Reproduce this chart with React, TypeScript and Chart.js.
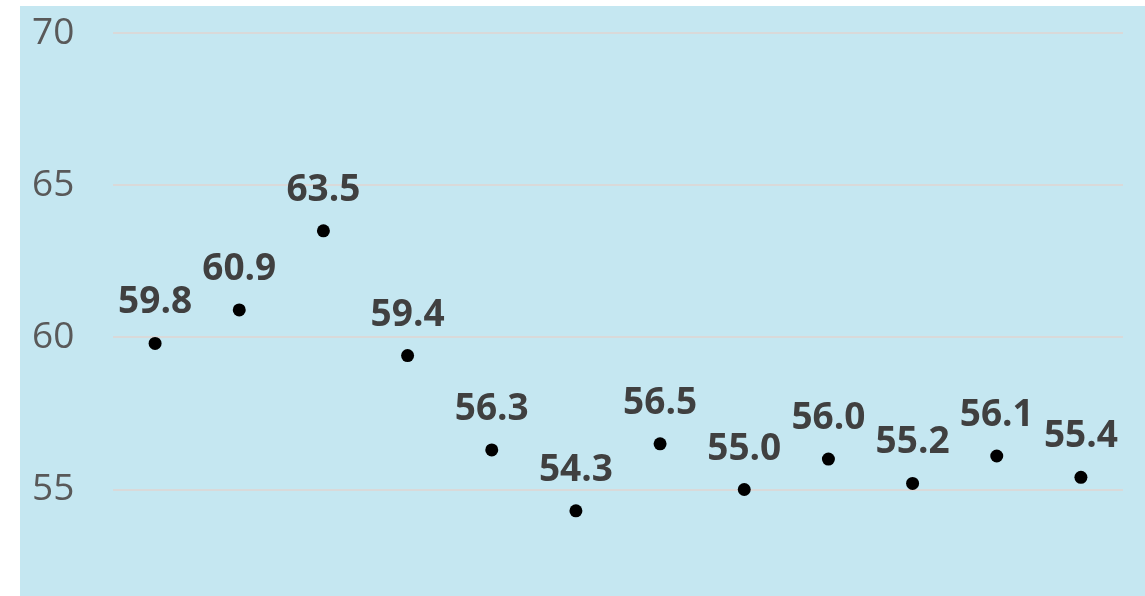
import React, { useEffect, useRef } from "react";
import { Chart, registerables } from "chart.js";

Chart.register(...registerables);

const categories = ["1", "2", "3", "4", "5", "6", "7", "8", "9", "10", "11", "12"];
const seriesValues = [59.8, 60.9, 63.5, 59.4, 56.3, 54.3, 56.5, 55.0, 56.0, 55.2, 56.1, 55.4];
const yTickValues = [55, 60, 65, 70];

const bgPlugin = {
  id: "bgFill",
  beforeDraw(chart: any) {
    const { ctx, width, height } = chart;
    ctx.save();
    ctx.fillStyle = "#c5e7f1";
    ctx.fillRect(0, 0, width, height);
    ctx.restore();
  },
};

const labelPlugin = {
  id: "valueLabels",
  afterDatasetsDraw(chart: any) {
    const { ctx } = chart;
    const meta = chart.getDatasetMeta(0);
    ctx.save();
    ctx.font = "bold 37px 'Open Sans'";
    ctx.fillStyle = "#404040";
    ctx.textAlign = "center";
    ctx.textBaseline = "alphabetic";
    meta.data.forEach((pt: any, i: number) => {
      ctx.fillText(seriesValues[i].toFixed(1), pt.x, pt.y - 30);
    });
    ctx.restore();
  },
};

export default function App() {
  const ref = useRef<HTMLCanvasElement>(null);
  useEffect(() => {
    if (!ref.current) return;
    const chart = new Chart(ref.current, {
      type: "scatter",
      data: {
        labels: categories,
        datasets: [
          {
            type: "line",
            data: seriesValues,
            showLine: false,
            pointRadius: 6.5,
            pointBackgroundColor: "#000000",
            pointBorderWidth: 0,
            borderColor: "#000000",
          } as any,
        ],
      },
      options: {
        animation: false,
        responsive: false,
        maintainAspectRatio: false,
        layout: { padding: { left: 12, right: 22, top: 27, bottom: 0 } },
        plugins: { legend: { display: false }, tooltip: { enabled: false } },
        scales: {
          x: {
            type: "category",
            offset: true,
            display: false,
          },
          y: {
            min: 52,
            max: 70,
            border: { display: false },
            grid: { color: "#d9d9d9", lineWidth: 2, drawTicks: false },
            afterBuildTicks: (scale: any) => {
              scale.ticks = yTickValues.map((v) => ({ value: v }));
            },
            afterFit: (scale: any) => {
              scale.width = 81;
            },
            ticks: {
              padding: 0,
              crossAlign: "far",
              color: "#595959",
              font: { family: "Open Sans", size: 37 },
            },
          },
        },
      },
      plugins: [bgPlugin, labelPlugin],
    });
    return () => chart.destroy();
  }, []);
  return (
    <div style={{ position: "absolute", left: 20, top: 6, width: 1125, height: 590, overflow: "hidden" }}>
      <canvas ref={ref} width={1125} height={597} style={{ display: "block" }} />
    </div>
  );
}
